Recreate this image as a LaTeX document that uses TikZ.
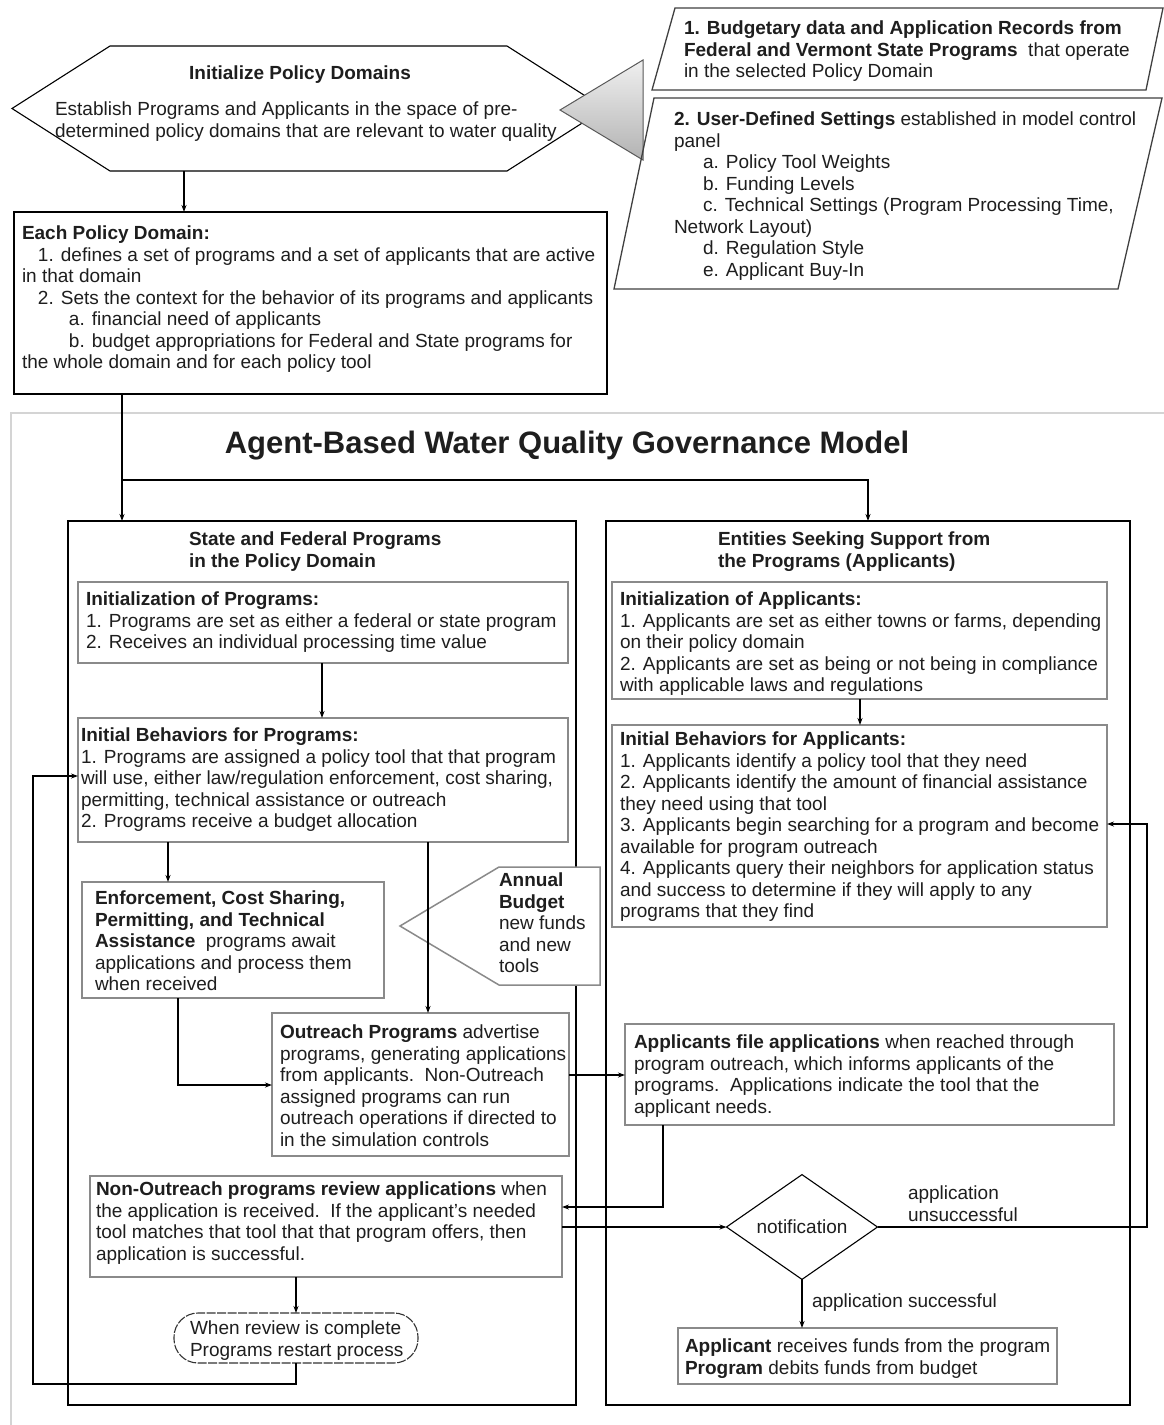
\documentclass[tikz,border=0pt]{standalone}
\usepackage{fontspec}
\setmainfont{Liberation Sans}
\usetikzlibrary{arrows.meta,shapes.geometric,fit,calc}
\definecolor{txtc}{HTML}{1E1E1E}
\definecolor{boxc}{HTML}{8A8A8A}
\definecolor{framec}{HTML}{D4D4D4}
\begin{document}
\begin{tikzpicture}[x=1pt,y=-1pt,
  every node/.style={inner sep=0pt, outer sep=0pt, text=txtc},
  txt/.style={anchor=north west, align=left, yshift=-3pt, font=\fontsize{19}{21.5}\selectfont, execute at begin node=\strut},
  ctxt/.style={align=center, font=\fontsize{19}{21.5}\selectfont},
  sbox/.style={draw=black, line width=1.4pt},
  ibox/.style={draw=boxc, line width=1.5pt, fill=white},
  arr/.style={draw=black, line width=1.2pt, -{Stealth[length=7pt,width=5pt]}},
  conn/.style={draw=black, line width=1.2pt}]
\useasboundingbox (0,0) rectangle (1164,1425);
\fill[white] (0,0) rectangle (1164,1425);

% ---------- top part ----------
\node[fit={(12,46)(605,171)}] (hex) {};
\draw[line width=1.1pt] (hex.west) -- (110,46) -- (507,46) -- (hex.east) -- (507,171) -- (110,171) -- cycle;
\node[font=\fontsize{19}{21.5}\selectfont\bfseries] (hext) at (300,75) {Initialize Policy Domains};
\node[txt] (hexb) at (55,99) {Establish Programs and Applicants in the space of pre-\\determined policy domains that are relevant to water quality};

% triangle (merge)
\node[fit={(560,60)(643,160)}] (tri) {};
\shade[top color=gray!12, bottom color=gray!60, draw=gray!70!black, line width=1pt] (560,110) -- (643,60) -- (643,160) -- cycle;

% parallelograms
\node[fit={(652,8)(1163,90)}] (par1) {};
\draw[draw=black!75, line width=1.3pt] (675,8) -- (1163,8) -- (1146,90) -- (652,90) -- cycle;
\node[txt] (par1t) at (684,18) {\textbf{1. Budgetary data and Application Records from}\\\textbf{Federal and Vermont State Programs}\ \ that operate\\in the selected Policy Domain};

\node[fit={(614,98)(1162,289)}] (par2) {};
\draw[draw=black!75, line width=1.3pt] (654,98) -- (1162,98) -- (1118,289) -- (614,289) -- cycle;
\node[txt] (par2t) at (674,109) {\textbf{2. User-Defined Settings} established in model control\\panel\\\hspace*{29pt}a. Policy Tool Weights\\\hspace*{29pt}b. Funding Levels\\\hspace*{29pt}c. Technical Settings (Program Processing Time,\\Network Layout)\\\hspace*{29pt}d. Regulation Style\\\hspace*{29pt}e. Applicant Buy-In};

% Each policy domain
\node[sbox, fit={(14,212)(607,394)}] (epd) {};
\node[txt] (epdt) at (22,223) {\textbf{Each Policy Domain:}\\\hspace*{16pt}1. defines a set of programs and a set of applicants that are active\\in that domain\\\hspace*{16pt}2. Sets the context for the behavior of its programs and applicants\\\hspace*{47pt}a. financial need of applicants\\\hspace*{47pt}b. budget appropriations for Federal and State programs for\\the whole domain and for each policy tool};

\coordinate (xa) at (184,0);
\draw[arr] (hex.south -| xa) -- (epd.north -| xa);

% ---------- model frame ----------
\draw[framec, line width=1.3pt] (11,1425) -- (11,413) -- (1164,413);
\node[font=\fontsize{31}{36}\selectfont\bfseries] (title) at (567,446) {Agent-Based Water Quality Governance Model};

\node[sbox, fit={(68,521)(576,1405)}] (lc) {};
\node[sbox, fit={(606,521)(1130,1405)}] (rc) {};
\node[txt, font=\fontsize{19}{21.5}\selectfont\bfseries] (lct) at (189,529) {State and Federal Programs\\in the Policy Domain};
\node[txt, font=\fontsize{19}{21.5}\selectfont\bfseries] (rct) at (718,529) {Entities Seeking Support from\\the Programs (Applicants)};

\coordinate (jl) at (122,480);
\coordinate (jr) at (868,480);
\draw[conn] (epd.south -| jl) -- (jl);
\draw[arr] (jl) -- (lc.north -| jl);
\draw[arr] (jl) -- (jr) -- (rc.north -| jr);

% ---------- left column ----------
\node[ibox, fit={(78,582)(568,663)}] (ip) {};
\node[txt] (ipt) at (86,589) {\textbf{Initialization of Programs:}\\1. Programs are set as either a federal or state program\\2. Receives an individual processing time value};

\node[ibox, fit={(78,718)(568,842)}] (ib) {};
\node[txt] (ibt) at (81,725) {\textbf{Initial Behaviors for Programs:}\\1. Programs are assigned a policy tool that that program\\will use, either law/regulation enforcement, cost sharing,\\permitting, technical assistance or outreach\\2. Programs receive a budget allocation};

\coordinate (xc) at (322,0);
\draw[arr] (ip.south -| xc) -- (ib.north -| xc);

\node[ibox, fit={(82,882)(384,998)}] (enf) {};
\node[txt] (enft) at (95,888) {\textbf{Enforcement, Cost Sharing,}\\\textbf{Permitting, and Technical}\\\textbf{Assistance}\ \ programs await\\applications and process them\\when received};

\node[ibox, fit={(272,1013)(569,1156)}] (outr) {};
\node[txt] (outrt) at (280,1022) {\textbf{Outreach Programs} advertise\\programs, generating applications\\from applicants.\ \ Non-Outreach\\assigned programs can run\\outreach operations if directed to\\in the simulation controls};

\coordinate (xd) at (168,0);
\coordinate (xe) at (428,0);
\draw[arr] (ib.south -| xd) -- (enf.north -| xd);
\draw[arr] (ib.south -| xe) -- (outr.north -| xe);

% annual budget
\node[fit={(400,867)(600,985)}] (budget) {};
\draw[draw=boxc, line width=1.5pt, fill=white] (400,926) -- (499,867) -- (600,867) -- (600,985) -- (499,985) -- cycle;
\draw[conn] (428,900) -- (428,955);
\node[txt] (budt) at (499,870) {\textbf{Annual}\\\textbf{Budget}\\new funds\\and new\\tools};

\coordinate (k1) at (178,1085);
\draw[arr] (enf.south -| k1) -- (k1) -- (outr.west |- k1);

\node[ibox, fit={(90,1176)(562,1277)}] (nonout) {};
\node[txt] (nonoutt) at (96,1179) {\textbf{Non-Outreach programs review applications} when\\the application is received.\ \ If the applicant's needed\\tool matches that tool that that program offers, then\\application is successful.};

\node[fit={(174,1313)(418,1363)}, draw=black!80, line width=1.1pt, rounded corners=24pt, dash pattern=on 9pt off 1.5pt, fill=white] (oval) {};
\node[txt] (ovalt) at (190,1318) {When review is complete\\Programs restart process};

\coordinate (xf) at (296,0);
\draw[arr] (nonout.south -| xf) -- (oval.north -| xf);
\coordinate (k2) at (33,1384);
\coordinate (k3) at (33,776);
\draw[arr] (oval.south -| xf) |- (k2) -- (k3) -- (ib.west |- k3);

% ---------- right column ----------
\node[ibox, fit={(612,582)(1107,699)}] (ia) {};
\node[txt] (iat) at (620,589) {\textbf{Initialization of Applicants:}\\1. Applicants are set as either towns or farms, depending\\on their policy domain\\2. Applicants are set as being or not being in compliance\\with applicable laws and regulations};

\node[ibox, fit={(612,725)(1107,927)}] (iba) {};
\node[txt] (ibat) at (620,729) {\textbf{Initial Behaviors for Applicants:}\\1. Applicants identify a policy tool that they need\\2. Applicants identify the amount of financial assistance\\they need using that tool\\3. Applicants begin searching for a program and become\\available for program outreach\\4. Applicants query their neighbors for application status\\and success to determine if they will apply to any\\programs that they find};

\coordinate (xg) at (860,0);
\draw[arr] (ia.south -| xg) -- (iba.north -| xg);

\node[ibox, fit={(625,1024)(1114,1125)}] (afile) {};
\node[txt] (afilet) at (634,1032) {\textbf{Applicants file applications} when reached through\\program outreach, which informs applicants of the\\programs.\ \ Applications indicate the tool that the\\applicant needs.};

\coordinate (k4) at (0,1075);
\draw[arr] (outr.east |- k4) -- (afile.west |- k4);

\coordinate (k5) at (663,1207);
\draw[arr] (afile.south -| k5) -- (k5) -- (nonout.east |- k5);

\node[diamond, draw=black, line width=1.1pt, minimum width=151pt, minimum height=100pt, font=\fontsize{19}{21.5}\selectfont, fill=white] (notif) at (802,1227) {notification};

\draw[arr] (nonout.east |- notif.west) -- (notif.west);

\coordinate (k6) at (1147,824);
\draw[arr] (notif.east) -| (k6) -- (iba.east |- k6);

\node[txt] (lunsucc) at (908,1183) {application\\unsuccessful};

\node[ibox, fit={(678,1328)(1057,1384)}] (final) {};
\node[txt] (finalt) at (685,1336) {\textbf{Applicant} receives funds from the program\\\textbf{Program} debits funds from budget};

\draw[arr] (notif.south) -- (final.north -| notif.south);
\node[txt] (lsucc) at (812,1289) {application successful};

\end{tikzpicture}
\end{document}
